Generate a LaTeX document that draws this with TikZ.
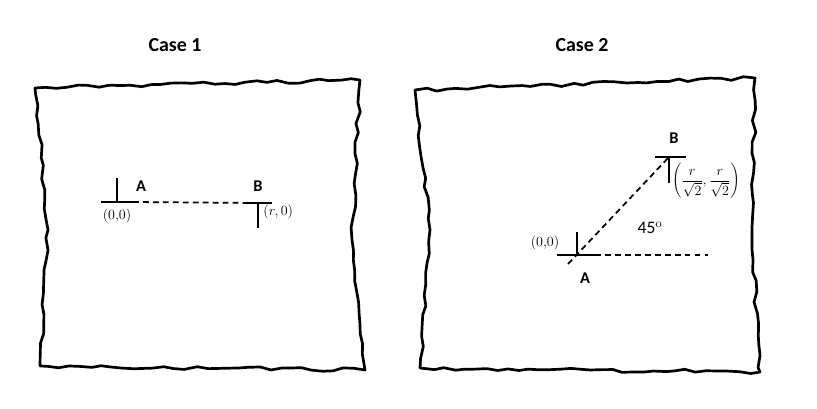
\documentclass[tikz,border=0pt]{standalone}
\usepackage{fontspec}
\setsansfont{Carlito}
\usetikzlibrary{decorations.pathmorphing}
\tikzset{
  wall/.style={line width=2.3pt,line join=round,decorate,decoration={random steps,segment length=9pt,amplitude=1.6pt}},
  disl/.style={line width=2.2pt},
  burg/.style={line width=1.5pt,dash pattern=on 5pt off 3.5pt},
  lbl/.style={font=\sffamily\bfseries\fontsize{17}{20}\selectfont},
  ltr/.style={font=\sffamily\bfseries\fontsize{14}{16}\selectfont},
  crd/.style={font=\fontsize{12}{14}\selectfont}
}
\begin{document}
\begin{tikzpicture}[x=0.03cm,y=-0.03cm]
  \useasboundingbox (0,0) rectangle (817,408);
  \pgfmathsetseed{7}
  % Case 1
  \node[lbl] (t1) at (175,45) {Case 1};
  \draw[wall] (35,88) -- (360,80) -- (352,240) -- (365,370) -- (40,366) -- (48,230) -- cycle;
  \coordinate (a1) at (117,202);
  \coordinate (b1) at (258,203);
  \draw[disl] (101,202) -- (133,202) (a1) -- (117,178);
  \draw[disl] (243,203) -- (272,203) (b1) -- (258,228);
  \draw[burg] (a1) ++(16,0) -- (b1) ++(-15,0);
  \node[ltr] (la1) at (141,186) {A};
  \node[ltr] (lb1) at (258,186) {B};
  \node[crd] (ca1) at (117,216) {(0,0)};
  \node[crd,anchor=west,inner sep=1pt] (cb1) at (262,212) {$(r,0)$};
  % Case 2
  \node[lbl] (t2) at (582,45) {Case 2};
  \draw[wall] (415,90) -- (755,78) -- (752,240) -- (760,372) -- (420,368) -- (430,230) -- cycle;
  \coordinate (a2) at (577,255);
  \coordinate (b2) at (669,157);
  \draw[disl] (557,255) -- (595,255) (a2) -- (577,232);
  \draw[disl] (655,157) -- (686,157) (b2) -- (669,183);
  \draw[burg] (568,264) -- (b2);
  \draw[burg] (595,255) -- (708,255);
  \node[ltr] (la2) at (585,278) {A};
  \node[ltr] (lb2) at (674,138) {B};
  \node[crd] (ca2) at (545,243) {(0,0)};
  \node[crd,anchor=west,inner sep=0pt] (cb2) at (672,181) {$\displaystyle\left(\frac{r}{\sqrt{2}},\frac{r}{\sqrt{2}}\right)$};
  \node[font=\sffamily\fontsize{15}{17}\selectfont] (ang) at (650,228) {45$^{\mathrm{o}}$};
\end{tikzpicture}
\end{document}
